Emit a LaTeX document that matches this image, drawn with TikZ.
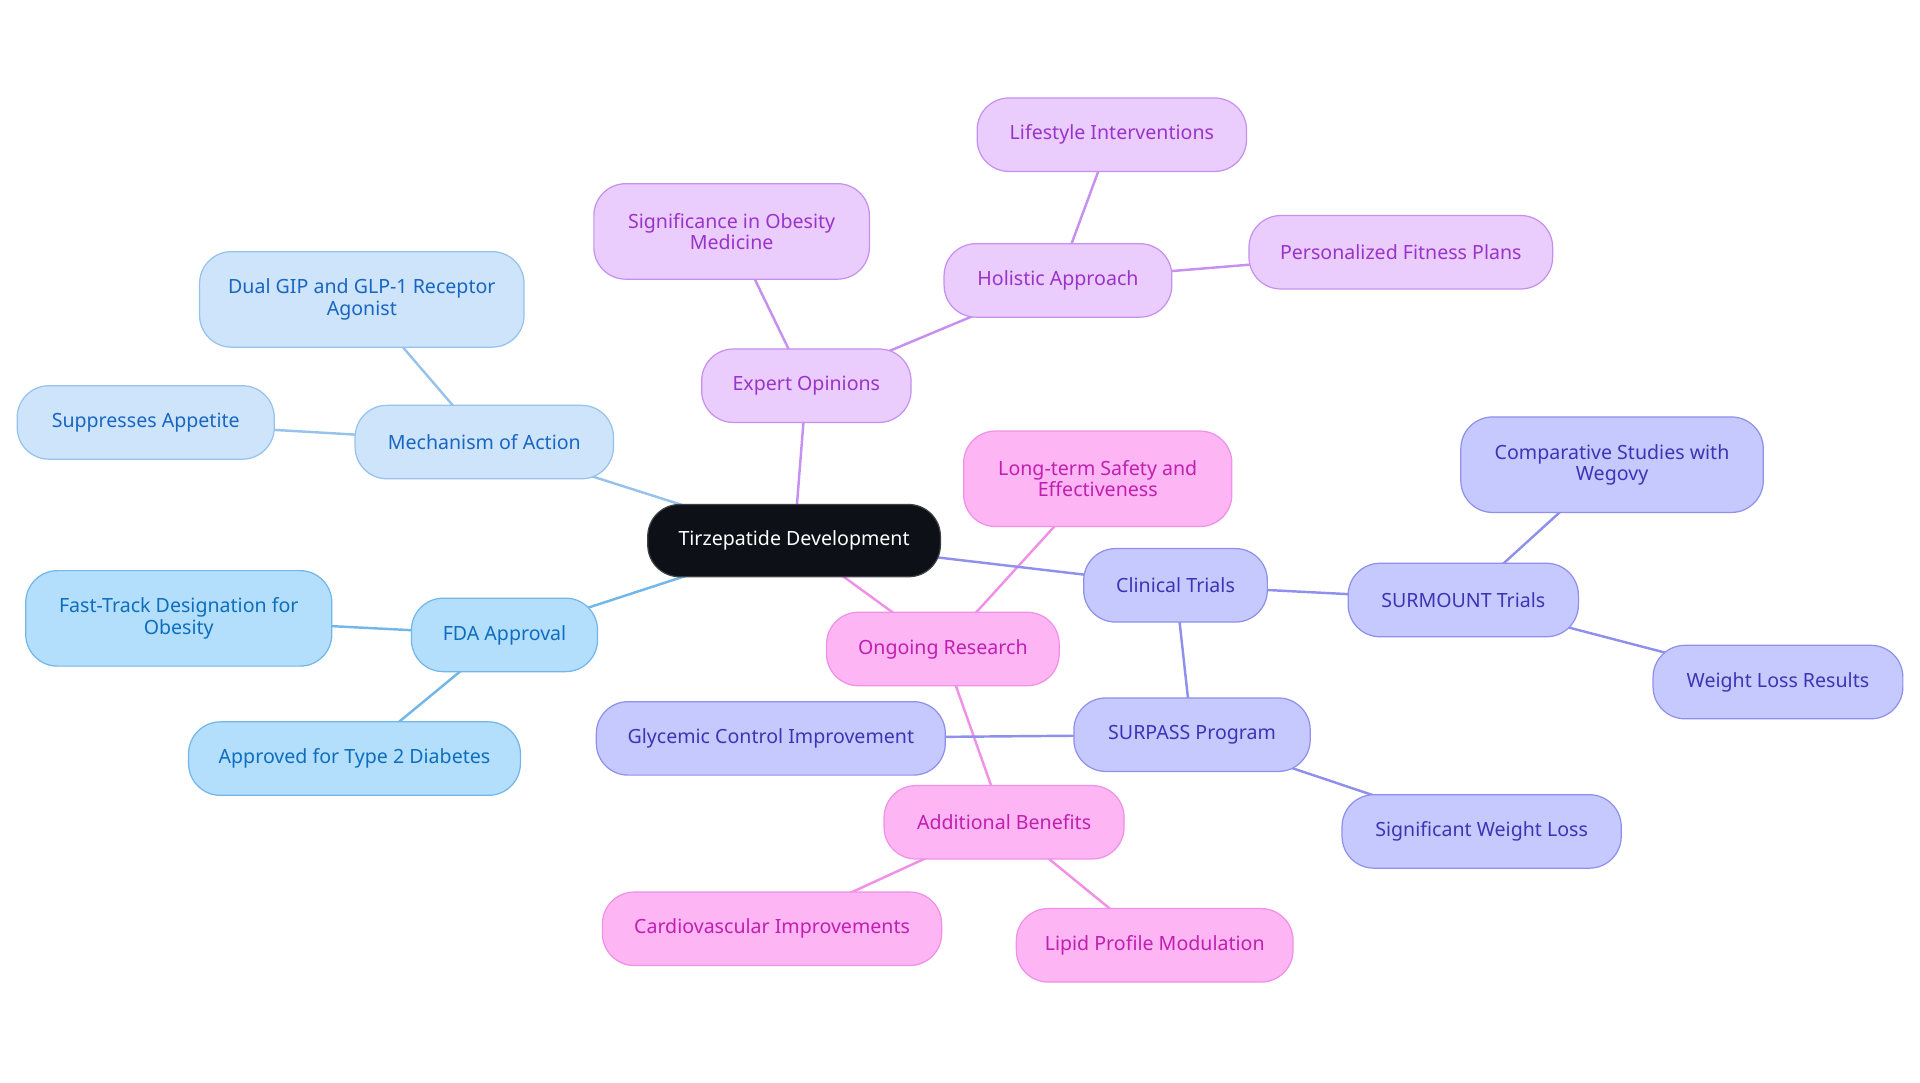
\documentclass[tikz,border=0pt]{standalone}
\usepackage{fontspec}
\setmainfont{Noto Sans}
\usetikzlibrary{backgrounds}
\definecolor{cfill}{HTML}{0D1117}
\definecolor{aFill}{HTML}{CDE4FB}\definecolor{aLine}{HTML}{96C2EC}\definecolor{aText}{HTML}{1966C2}
\definecolor{bFill}{HTML}{B3DEFC}\definecolor{bLine}{HTML}{72B7E8}\definecolor{bText}{HTML}{0E6EBE}
\definecolor{pFill}{HTML}{EACCFD}\definecolor{pLine}{HTML}{C690F0}\definecolor{pText}{HTML}{9A34C8}
\definecolor{kFill}{HTML}{FDB5F4}\definecolor{kLine}{HTML}{F090E6}\definecolor{kText}{HTML}{C01FB0}
\definecolor{iFill}{HTML}{C6C9FD}\definecolor{iLine}{HTML}{8F90EC}\definecolor{iText}{HTML}{3B35B5}
\tikzset{
  mm/.style={rounded corners=26pt, draw, line width=1pt, inner xsep=0pt, inner ysep=0pt,
    minimum height=60pt, align=center, font=\fontsize{16}{17.5}\selectfont},
  twol/.style={minimum height=78pt},
  root/.style={mm, fill=cfill, draw=cfill!80!white, text=white},
  grpA/.style={mm, fill=aFill, draw=aLine, text=aText},
  grpB/.style={mm, fill=bFill, draw=bLine, text=bText},
  grpP/.style={mm, fill=pFill, draw=pLine, text=pText},
  grpK/.style={mm, fill=kFill, draw=kLine, text=kText},
  grpI/.style={mm, fill=iFill, draw=iLine, text=iText},
  edge/.style={line width=2pt},
  eA/.style={edge, draw=aLine}, eB/.style={edge, draw=bLine},
  eP/.style={edge, draw=pLine}, eK/.style={edge, draw=kLine}, eI/.style={edge, draw=iLine}
}
\begin{document}
\begin{tikzpicture}[x=1pt,y=-1pt]
\useasboundingbox (0,0) rectangle (1568,884.4);
% root
\node[root, minimum width=239pt, minimum height=59pt] (root) at (648.5,441.5) {\raisebox{-1pt}{Tirzepatide Development}};
% blue A
\node[grpA, minimum width=211pt] (mech) at (395.5,361) {Mechanism of Action};
\node[grpA, twol, minimum width=265pt] (dual) at (295.5,244.5) {Dual GIP and GLP-1 Receptor\\Agonist};
\node[grpA, minimum width=210pt] (supp) at (119,345) {Suppresses Appetite};
% blue B
\node[grpB, minimum width=152pt] (fda) at (412,518.5) {FDA Approval};
\node[grpB, twol, minimum width=250pt] (fast) at (146,505) {Fast-Track Designation for\\Obesity};
\node[grpB, minimum width=271pt] (appr) at (289.5,619.5) {Approved for Type 2 Diabetes};
% purple
\node[grpP, minimum width=171pt] (expert) at (658.5,315) {Expert Opinions};
\node[grpP, twol, minimum width=225pt] (signif) at (597.5,189) {Significance in Obesity\\Medicine};
\node[grpP, minimum width=186pt] (holist) at (864,229) {Holistic Approach};
\node[grpP, minimum width=220pt] (life) at (908,110) {Lifestyle Interventions};
\node[grpP, minimum width=248pt] (pers) at (1144,206) {Personalized Fitness Plans};
% pink
\node[grpK, minimum width=190pt] (ongo) at (770,530) {Ongoing Research};
\node[grpK, twol, minimum width=219pt] (long) at (896.5,391) {Long-term Safety and\\Effectiveness};
\node[grpK, minimum width=196pt] (addb) at (820,671.5) {Additional Benefits};
\node[grpK, minimum width=277pt] (cardio) at (630.5,758.5) {Cardiovascular Improvements};
\node[grpK, minimum width=226pt] (lipid) at (943,772) {Lipid Profile Modulation};
% indigo
\node[grpI, minimum width=150pt] (clin) at (960,478) {Clinical Trials};
\node[grpI, minimum width=188pt] (surm) at (1195,490) {SURMOUNT Trials};
\node[grpI, twol, minimum width=247pt] (comp) at (1316.5,379.5) {Comparative Studies with\\Wegovy};
\node[grpI, minimum width=204pt] (wlr) at (1452,557) {Weight Loss Results};
\node[grpI, minimum width=193pt] (surp) at (973.5,600) {SURPASS Program};
\node[grpI, minimum width=285pt] (glyc) at (629.5,603) {Glycemic Control Improvement};
\node[grpI, minimum width=228pt] (swl) at (1210,679) {Significant Weight Loss};
\begin{pgfonlayer}{background}
\draw[eA] (root.center) -- (mech.center);
\draw[eA] (mech.center) -- (dual.center);
\draw[eA] (mech.center) -- (supp.center);
\draw[eB] (root.center) -- (fda.center);
\draw[eB] (fda.center) -- (fast.center);
\draw[eB] (fda.center) -- (appr.center);
\draw[eP] (root.center) -- (expert.center);
\draw[eP] (expert.center) -- (signif.center);
\draw[eP] (expert.center) -- (holist.center);
\draw[eP] (holist.center) -- (life.center);
\draw[eP] (holist.center) -- (pers.center);
\draw[eK] (root.center) -- (ongo.center);
\draw[eK] (ongo.center) -- (long.center);
\draw[eK] (ongo.center) -- (addb.center);
\draw[eK] (addb.center) -- (cardio.center);
\draw[eK] (addb.center) -- (lipid.center);
\draw[eI] (root.center) -- (clin.center);
\draw[eI] (clin.center) -- (surm.center);
\draw[eI] (surm.center) -- (comp.center);
\draw[eI] (surm.center) -- (wlr.center);
\draw[eI] (clin.center) -- (surp.center);
\draw[eI] (surp.center) -- (glyc.center);
\draw[eI] (surp.center) -- (swl.center);
\end{pgfonlayer}
\end{tikzpicture}
\end{document}
